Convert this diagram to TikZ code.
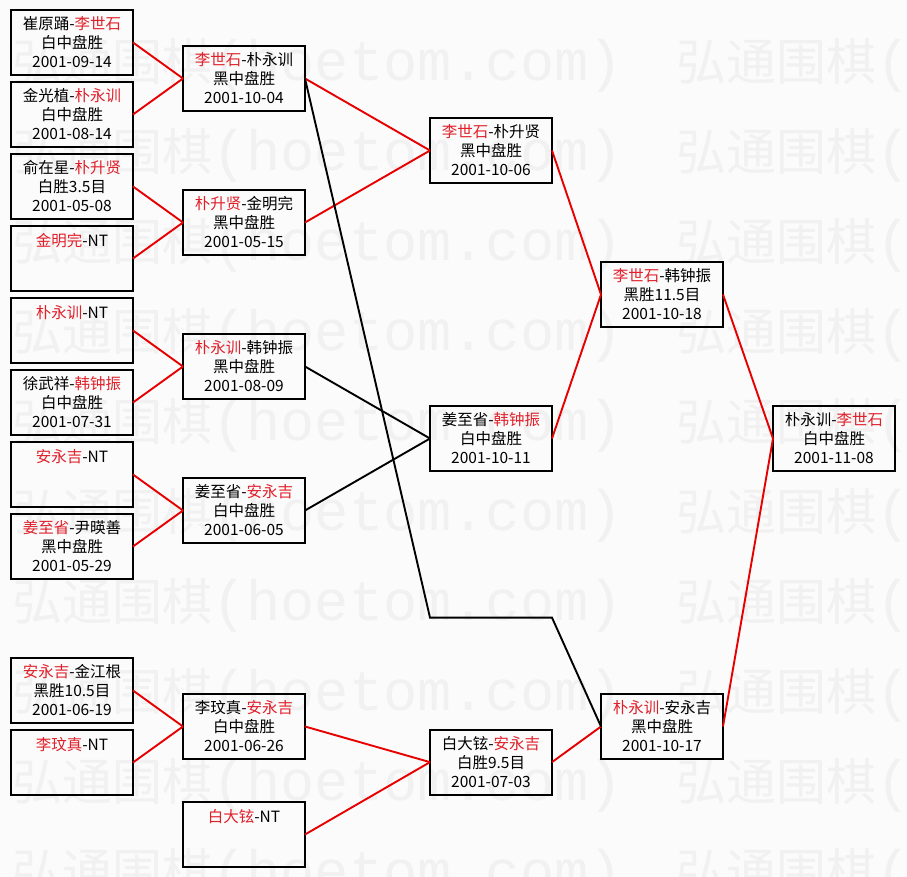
\documentclass[tikz,border=0pt]{standalone}
\usepackage{fontspec}
\setmainfont{Noto Sans CJK SC}
\newfontfamily\wmfont{Liberation Mono}
\usepackage{xcolor}
\usepackage{tikz}
\usetikzlibrary{positioning,calc}
\definecolor{win}{HTML}{E0202A}
\definecolor{lnred}{HTML}{E80000}
\definecolor{bg}{HTML}{FBFBFB}
\definecolor{wm}{HTML}{F1F1F1}
\newcommand{\wn}[1]{\textcolor{win}{#1}}
\newcommand{\wmtext}{弘通围棋{\wmfont\fontsize{57}{57}\selectfont(hoetom.com)}}
\tikzset{
  box/.style={draw, line width=1.9pt, align=center, font=\fontsize{15.5}{19}\selectfont,
              inner sep=0pt, outer sep=0pt, minimum width=122pt, minimum height=65pt},
  boxb/.style={box, line width=2.7pt},
  lr/.style={draw=lnred, line width=1.9pt},
  lk/.style={draw=black, line width=1.9pt},
  wmark/.style={text=wm, font=\fontsize{50}{50}\selectfont, anchor=west, inner sep=0pt},
}

\begin{document}
\begin{tikzpicture}[x=1pt, y=1pt, node distance=7pt and 50pt]
  \fill[bg] (0,0) rectangle (907,-877);
  \useasboundingbox (0,0) rectangle (907,-877);
  % watermark
  \begin{scope}
    \clip (0,0) rectangle (907,-877);
    \foreach \k in {0,...,9} {
      \node[wmark] (wl\k) at (12,-65-90*\k) {\wmtext};
      \node[wmark] (wr\k) at (676,-65-90*\k) {\wmtext};
    }
  \end{scope}
  % round 1
  \node[boxb, anchor=north west] (a1) at (11,-10) {崔原踊-\wn{李世石}\\白中盘胜\\2001-09-14};
  \node[boxb, below=of a1] (a2) {金光植-\wn{朴永训}\\白中盘胜\\2001-08-14};
  \node[box, below=of a2] (a3) {俞在星-\wn{朴升贤}\\白胜3.5目\\2001-05-08};
  \node[box, below=of a3] (a4) {\wn{金明完}-NT\\~\\~};
  \node[box, below=of a4] (a5) {\wn{朴永训}-NT\\~\\~};
  \node[box, below=of a5] (a6) {徐武祥-\wn{韩钟振}\\白中盘胜\\2001-07-31};
  \node[box, below=of a6] (a7) {\wn{安永吉}-NT\\~\\~};
  \node[box, below=of a7] (a8) {\wn{姜至省}-尹暎善\\黑中盘胜\\2001-05-29};
  \node[box, below=79pt of a8] (a9) {\wn{安永吉}-金江根\\黑胜10.5目\\2001-06-19};
  \node[box, below=of a9] (a10) {\wn{李玟真}-NT\\~\\~};
  % round 2
  \node[boxb, right=50pt of $(a1.east)!0.5!(a2.east)$] (b1) {\wn{李世石}-朴永训\\黑中盘胜\\2001-10-04};
  \node[box, right=50pt of $(a3.east)!0.5!(a4.east)$] (b2) {\wn{朴升贤}-金明完\\黑中盘胜\\2001-05-15};
  \node[box, right=50pt of $(a5.east)!0.5!(a6.east)$] (b3) {\wn{朴永训}-韩钟振\\黑中盘胜\\2001-08-09};
  \node[box, right=50pt of $(a7.east)!0.5!(a8.east)$] (b4) {姜至省-\wn{安永吉}\\白中盘胜\\2001-06-05};
  \node[box, right=50pt of $(a9.east)!0.5!(a10.east)$] (b5) {李玟真-\wn{安永吉}\\白中盘胜\\2001-06-26};
  \node[box, below=43pt of b5] (b6) {\wn{白大铉}-NT\\~\\~};
  % round 3
  \node[box, right=125pt of $(b1.east)!0.5!(b2.east)$] (c1) {\wn{李世石}-朴升贤\\黑中盘胜\\2001-10-06};
  \node[box, right=125pt of $(b3.east)!0.5!(b4.east)$] (c2) {姜至省-\wn{韩钟振}\\白中盘胜\\2001-10-11};
  \node[box, right=125pt of $(b5.east)!0.33!(b6.east)$] (c3) {白大铉-\wn{安永吉}\\白胜9.5目\\2001-07-03};
  % round 4 and final
  \node[box, right=49pt of $(c1.east)!0.5!(c2.east)$] (d1) {\wn{李世石}-韩钟振\\黑胜11.5目\\2001-10-18};
  \node[box, right=49pt of $(c3.east |- b5)$] (d2) {\wn{朴永训}-安永吉\\黑中盘胜\\2001-10-17};
  \node[box, right=50pt of $(d1.east |- c2)$] (fin) {朴永训-\wn{李世石}\\白中盘胜\\2001-11-08};
  % connectors
  \foreach \s/\t in {a1/b1,a2/b1,a3/b2,a4/b2,a5/b3,a6/b3,a7/b4,a8/b4,a9/b5,a10/b5,
                     b1/c1,b2/c1,b5/c3,b6/c3,c1/d1,c2/d1,c3/d2,d1/fin,d2/fin}
    \draw[lr] (\s.east) -- (\t.west);
  \draw[lk] (b3.east) -- (c2.west);
  \draw[lk] (b4.east) -- (c2.west);
  \coordinate (bend1) at ($(c3.north west)+(0,112)$);
  \coordinate (bend2) at ($(c3.north east)+(0,112)$);
  \draw[lk] (b1.east) -- (bend1) -- (bend2) -- (d2.west);
\end{tikzpicture}
\end{document}
